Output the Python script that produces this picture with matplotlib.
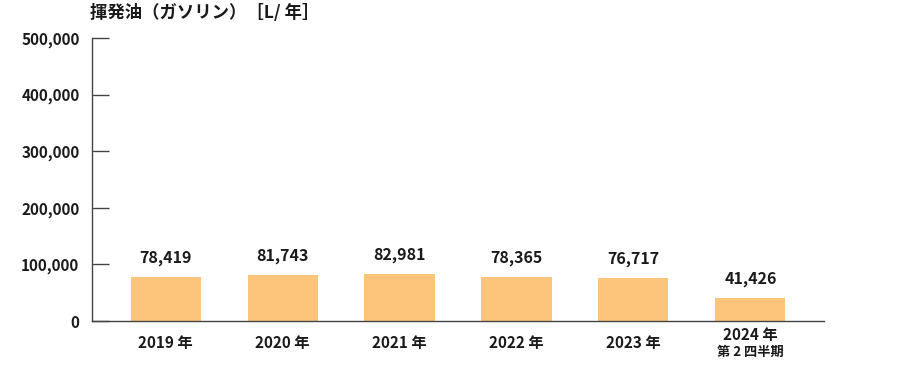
import matplotlib
matplotlib.use("Agg")
import matplotlib.pyplot as plt

plt.rcParams['font.family'] = ['Noto Sans CJK JP', 'DejaVu Sans']

years = ["2019 年", "2020 年", "2021 年", "2022 年", "2023 年", "2024 年"]
sublabels = ["", "", "", "", "", "第 2 四半期"]
values = [78419, 81743, 82981, 78365, 76717, 41426]
yticks = [0, 100000, 200000, 300000, 400000, 500000]
title = "揮発油（ガソリン）［L/ 年］"

bar_color = "#FDC57B"
text_color = "#1a1a1a"
axis_color = "#444444"

fig = plt.figure(figsize=(9, 3.65), dpi=100)
ax = fig.add_axes([92/900, 1-321/365, (824-92)/900, (321-38)/365])

x = list(range(len(values)))
ax.bar(x, values, width=0.6, color=bar_color, zorder=2)
for xi, v in zip(x, values):
    ax.annotate(f"{v:,}", (xi, v), xytext=(0, 13.5), textcoords="offset points",
                ha="center", va="center", fontsize=11.5, fontweight="bold", color=text_color)

ax.set_xlim(-0.63, len(values) - 1 + 0.63)
ax.set_ylim(0, 500000)
ax.set_yticks(yticks)
ax.set_yticklabels([f"{t:,}" for t in yticks], fontsize=11, fontweight="bold", color=text_color)
ax.tick_params(axis='y', direction='in', length=12, width=1, color=axis_color, pad=9)
ax.set_xticks(x)
ax.set_xticklabels([])
ax.tick_params(axis='x', length=0)

for xi, (yl, sl) in enumerate(zip(years, sublabels)):
    off = -10.2 if sl else -15.8
    ax.annotate(yl, (xi, 0), xytext=(0, off), textcoords="offset points",
                ha="center", va="center", fontsize=11, fontweight="bold", color=text_color,
                annotation_clip=False)
    if sl:
        ax.annotate(sl, (xi, 0), xytext=(0, -22.6), textcoords="offset points",
                    ha="center", va="center", fontsize=9.5, fontweight="bold", color=text_color,
                    annotation_clip=False)

for s in ["top", "right"]:
    ax.spines[s].set_visible(False)
for s in ["left", "bottom"]:
    ax.spines[s].set_color(axis_color)
    ax.spines[s].set_linewidth(1)

fig.text(90/900, 1-13/365, title, ha="left", va="center", fontsize=12.5,
         fontweight="bold", color=text_color)

fig.savefig("out.png", dpi=100)
